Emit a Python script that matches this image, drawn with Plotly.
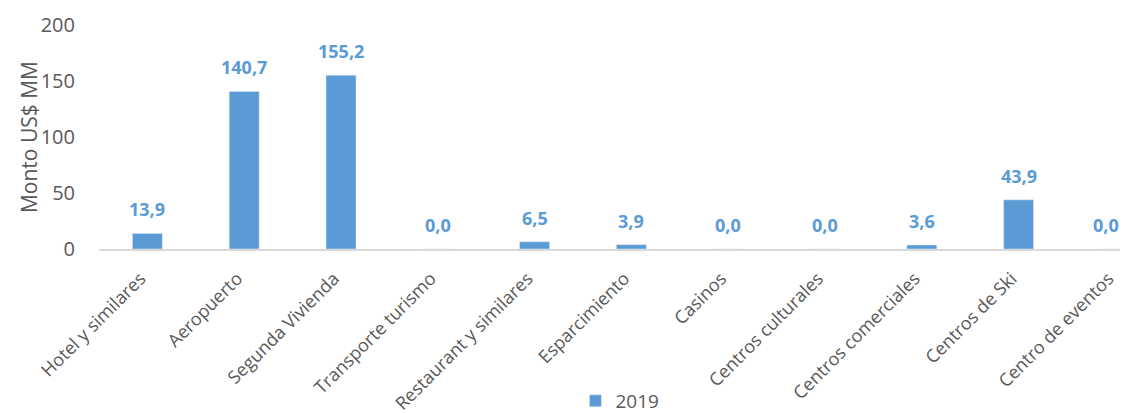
import plotly.graph_objects as go

categories = ["Hotel y similares", "Aeropuerto", "Segunda Vivienda", "Transporte turismo",
              "Restaurant y similares", "Esparcimiento", "Casinos", "Centros culturales",
              "Centros comerciales", "Centros de Ski", "Centro de eventos"]
values_2019 = [13.9, 140.7, 155.2, 0.0, 6.5, 3.9, 0.0, 0.0, 3.6, 43.9, 0.0]
series_name = "2019"
y_ticks = [0, 50, 100, 150, 200]
y_title = "Monto US$ MM"

BLUE = "#5B9BD5"
GREY = "#595959"
FONT = "Open Sans"

fig = go.Figure()
fig.add_trace(go.Bar(
    x=categories, y=values_2019, name=series_name,
    marker=dict(color=BLUE), width=0.31,
))

n = len(categories)
for i, (c, v) in enumerate(zip(categories, values_2019)):
    fig.add_annotation(
        x=c, y=v, text=f"{v:.1f}".replace(".", ","),
        showarrow=False, yanchor="bottom", yshift=10,
        xshift=-9 if i == n - 1 else 0,
        font=dict(family=FONT, size=18, color=BLUE, weight="bold"),
    )

fig.add_annotation(
    xref="paper", yref="paper", x=-0.068, y=0.5, text=y_title, textangle=-90,
    showarrow=False, xanchor="center", yanchor="middle",
    font=dict(family=FONT, size=21, color=GREY),
)

fig.update_layout(
    width=1128, height=413,
    margin=dict(l=91, r=8, t=17, b=172, autoexpand=False),
    plot_bgcolor="white", paper_bgcolor="white",
    font=dict(family=FONT, color=GREY),
    showlegend=True,
    legend=dict(orientation="h", x=0.463, xanchor="left", y=-0.678, yanchor="middle",
                font=dict(size=19, color=GREY), itemwidth=30),
)
fig.update_xaxes(
    range=[-0.5, 10.13], tickangle=-45, tickfont=dict(size=18, color=GREY),
    showline=True, linecolor="#D9D9D9", linewidth=2, showgrid=False, ticks="",
    automargin=False, ticklabelshift=-7, ticklabelstandoff=10,
)
fig.update_yaxes(
    range=[0, 200], tickvals=y_ticks, tickfont=dict(size=20, color=GREY),
    showgrid=False, zeroline=False, showline=False, ticks="",
    automargin=False, ticklabelstandoff=23,
)

fig.write_html("out.html")
